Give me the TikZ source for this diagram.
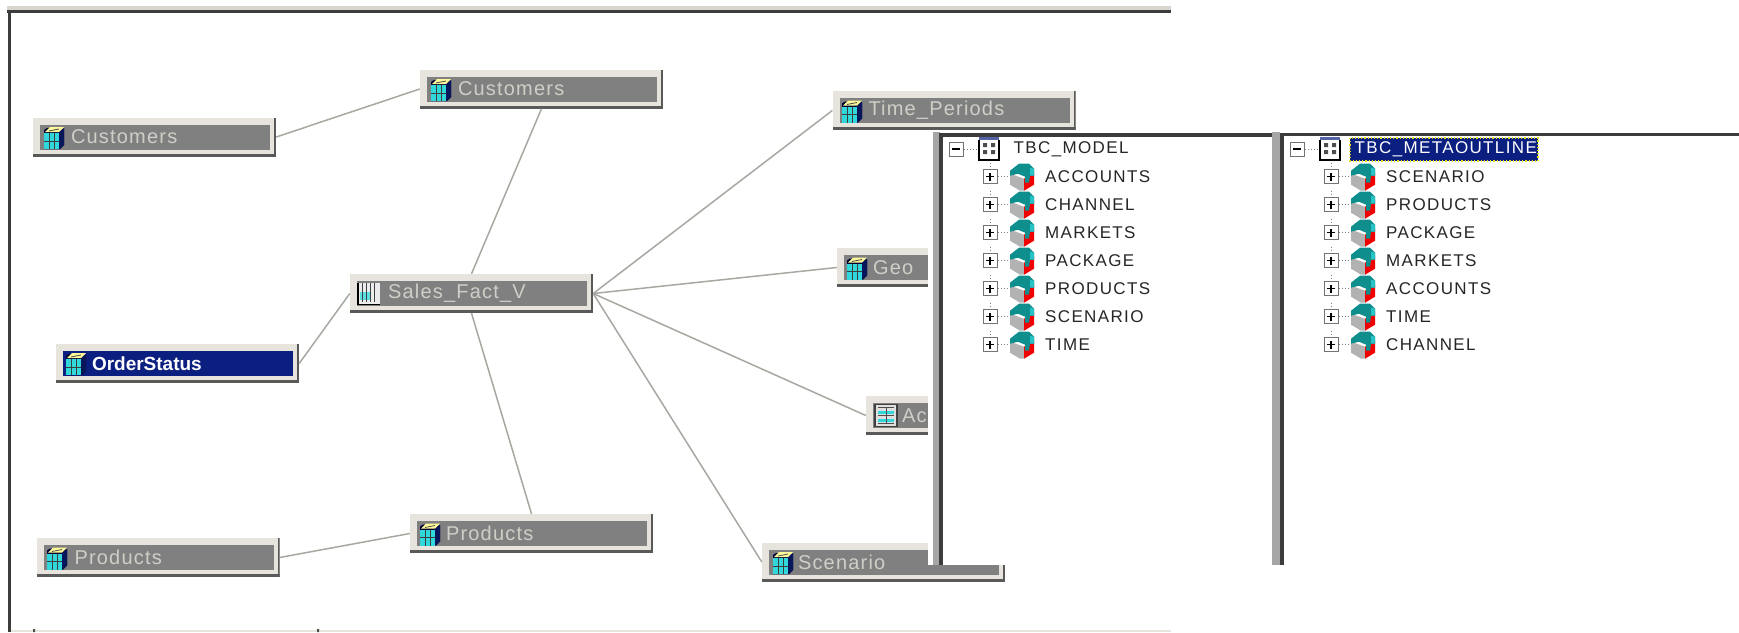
\documentclass[tikz,border=0pt]{standalone}
\usepackage{fontspec}
\setmainfont{Liberation Sans}
\newfontfamily\boxfont[LetterSpace=6]{Liberation Sans}
\newfontfamily\treefont[LetterSpace=8]{Liberation Sans}
\definecolor{beigeA}{HTML}{E6E4DC}
\definecolor{greyA}{HTML}{808080}
\definecolor{txtA}{HTML}{CFCFC8}
\definecolor{frameA}{HTML}{3C3C3C}
\definecolor{lineA}{HTML}{A8A8A2}
\definecolor{navyA}{HTML}{0B1F80}
\definecolor{tealA}{HTML}{0F8E8E}
\definecolor{cyanA}{HTML}{30D8DC}
\tikzset{
  x=1pt,y=-1pt,
  link/.style={draw=lineA,line width=1.5pt},
  dimbox/.style={rectangle,fill=beigeA,minimum width=243pt,minimum height=39pt,inner sep=0pt,
    text width=243pt,align=left,text=txtA,font=\fontsize{20}{22}\selectfont\boxfont,
    path picture={
      \fill[#1] ([xshift=7pt,yshift=-7pt]path picture bounding box.north west) rectangle ([xshift=-6pt,yshift=7pt]path picture bounding box.south east);
      \fill[frameA!85] ([yshift=3pt]path picture bounding box.south west) rectangle (path picture bounding box.south east);
      \fill[frameA!85] ([xshift=-2pt]path picture bounding box.north east) rectangle (path picture bounding box.south east);
    }},
  dimbox/.default=greyA,
  panel/.style={draw=none,fill=white},
  treetxt/.style={anchor=west,inner sep=0pt,text=black!85,font=\fontsize{17}{19}\selectfont\treefont},
  dimicon/.pic={
    \fill[black!80!blue] (-6,-9) -- (-9,-7) -- (-9,12) -- (7,12) -- (11,8) -- (11,-8) -- cycle;
    \fill[cyanA] (-9,-4) rectangle (6,12);
    \draw[frameA,line width=1pt] (-4,-4)--(-4,12) (1,-4)--(1,12) (-9,4)--(6,4);
    \fill[navyA!70!black] (6,-5) -- (11,-9) -- (11,8) -- (6,12) -- cycle;
    \fill[white!60!yellow] (-8,-5) -- (-3,-10) -- (11,-10) -- (6,-5) -- cycle;
    \draw[black!70,line width=.8pt] (-4,-6)--(6,-8);
  },
  facticon/.pic={
    \fill[white!85!gray] (-11,-11) rectangle (11,11);
    \fill[cyanA!80] (-9,-2) rectangle (2,6);
    \draw[black!75,line width=1pt] (-7,-11)--(-7,8) (-3,-11)--(-3,8) (1,-11)--(1,8) (5,-11)--(5,8);
    \draw[black,line width=1.2pt] (-11,-11)--(-11,11)--(11,11);
  },
  accicon/.pic={
    \fill[white!75!gray] (-11,-11) rectangle (11,11);
    \draw[black!75,line width=1.2pt] (-11,-11) rectangle (11,11);
    \fill[cyanA] (-8,-5) rectangle (8,-2);
    \fill[cyanA] (-8,3) rectangle (8,6);
    \draw[black!70,line width=.8pt] (-8,-8)--(8,-8) (-8,0)--(8,0) (-8,8)--(8,8) (0,-8)--(0,8);
  },
  treeminus/.pic={
    \draw[black!55,line width=1pt,fill=white] (-7,-7) rectangle (7,7);
    \draw[black,line width=1.2pt] (-4,0)--(4,0);
    \draw[black!50,line width=1pt,dotted] (8,0)--(22,0);
  },
  treeplus/.pic={
    \draw[black!55,line width=1pt,fill=white] (-7,-7) rectangle (7,7);
    \draw[black,line width=1.2pt] (-4,0)--(4,0) (0,-4)--(0,4);
    \draw[black!50,line width=1pt,dotted] (8,0)--(20,0);
    \draw[black!50,line width=1pt,dotted] (0,-14)--(0,-8);
  },
  treetable/.pic={
    \fill[white] (-10,-12) rectangle (10,11);
    \fill[navyA!70] (-10,-12) rectangle (10,-9);
    \draw[black,line width=1.4pt] (-10,-9)--(-10,11)--(10,11)--(10,-9);
    \fill[black!70] (-6,-6) rectangle (-2,-2) (2,-6) rectangle (6,-2) (-6,1) rectangle (-2,5) (2,1) rectangle (6,5);
  },
  treecube/.pic={
    \fill[black!30] (-12,-3) -- (-12,8) -- (-2,14) -- (2,14) -- (2,2) -- cycle;
    \fill[red!95!black] (2,2) -- (12,-4) -- (12,8) -- (2,14) -- cycle;
    \fill[tealA] (-12,-6) -- (-3,-13) -- (7,-13) -- (12,-8) -- (12,-1) -- (8,-1) -- (7,6) -- (3,6) -- (3,0) -- (-4,-3) -- (-12,-1) -- cycle;
    \fill[cyanA!70!tealA] (8,-9) -- (12,-8) -- (12,-1) -- (8,-1) -- cycle;
  },
}
\begin{document}
\begin{tikzpicture}
\useasboundingbox (0,0) rectangle (1739,632);
\fill[white] (0,0) rectangle (1739,632);
% frame
\fill[beigeA!85!gray] (7,6) rectangle (1171,10);
\fill[frameA] (7,10) rectangle (1171,12.5);
\fill[frameA] (8,10) rectangle (11,632);
\fill[beigeA] (11,630) rectangle (1171,632);
\fill[black!70] (33,629) rectangle (35,632) (317,629) rectangle (319,632);
% boxes
\node[dimbox] (cust1) at (154.5,137) {\hspace*{38pt}Customers};
\node[dimbox] (cust2) at (541.5,89) {\hspace*{38pt}Customers};
\node[dimbox] (fact) at (471.5,293.5) {\hspace*{38pt}Sales\_Fact\_V};
\node[dimbox=navyA,text=white,font=\fontsize{19}{22}\selectfont\bfseries] (order) at (177.5,363.5) {\hspace*{36pt}OrderStatus};
\node[dimbox] (prod1) at (158,557.5) {\hspace*{38pt}Products};
\node[dimbox] (prod2) at (531.5,533.5) {\hspace*{36pt}Products};
\node[dimbox] (time) at (954,110.5) {\hspace*{36pt}Time\_Periods};
\node[dimbox] (geo) at (958.5,267.5) {\hspace*{36pt}Geo};
\node[dimbox] (acc) at (987.5,415.5) {\hspace*{36pt}Accounts};
\node[dimbox] (scen) at (883.5,562) {\hspace*{36pt}Scenario};
% connectors
\draw[link] (cust1.east) -- (cust2.west);
\draw[link] (cust2.south) -- (fact.north);
\draw[link] (order.east) -- (fact.west);
\draw[link] (fact.south) -- (prod2.north);
\draw[link] (prod1.east) -- (prod2.west);
\draw[link] (fact.east) -- (time.west);
\draw[link] (fact.east) -- (geo.west);
\draw[link] (fact.east) -- (acc.west);
\draw[link] (fact.east) -- (scen.west);
% icons
\pic at (53,137) {dimicon};
\pic at (440,89) {dimicon};
\pic at (369,293.5) {facticon};
\pic at (75,363) {dimicon};
\pic at (56,557.5) {dimicon};
\pic at (429,533.5) {dimicon};
\pic at (851,110.5) {dimicon};
\pic at (856,267.5) {dimicon};
\pic at (886,415.5) {accicon};
\pic at (782,562) {dimicon};
% panels
\fill[panel] (927.6,131.5) rectangle (1739,565);
\fill[black!35] (933,132) rectangle (940,565);
\fill[frameA] (938.6,132.5) rectangle (942.5,565);
\fill[frameA] (938.6,132.5) rectangle (1272,136.5);
\fill[black!35] (1272,132) rectangle (1280,565);
\fill[frameA] (1280,132.5) rectangle (1284,565);
\fill[frameA] (1280,132.5) rectangle (1739,135.5);
\fill[navyA] (1350,138) rectangle (1538,161);
\draw[yellow!90!black,line width=1.2pt,dotted] (1350,138) rectangle (1538,161);
% trees
\foreach \ox/\rootname/\rootcol [count=\t] in {0/TBC\_MODEL/black!85,341/TBC\_METAOUTLINE/white}{
  \pic at (956+\ox,149) {treeminus};
  \pic at (989+\ox,149) {treetable};
  \node[treetxt,text=\rootcol] (root\t) at (1013.5+\ox,149) {\rootname};
}
\foreach \n/\y [count=\i] in {ACCOUNTS/176.7,CHANNEL/204.7,MARKETS/232.7,PACKAGE/260.7,PRODUCTS/288.7,SCENARIO/316.7,TIME/344.7}{
  \pic at (990,\y) {treeplus};
  \pic at (1022,\y) {treecube};
  \node[treetxt] (ma\i) at (1045,\y) {\n};
}
\foreach \n/\y [count=\i] in {SCENARIO/176.7,PRODUCTS/204.7,PACKAGE/232.7,MARKETS/260.7,ACCOUNTS/288.7,TIME/316.7,CHANNEL/344.7}{
  \pic at (1331,\y) {treeplus};
  \pic at (1363,\y) {treecube};
  \node[treetxt] (mb\i) at (1386,\y) {\n};
}
\end{tikzpicture}
\end{document}
